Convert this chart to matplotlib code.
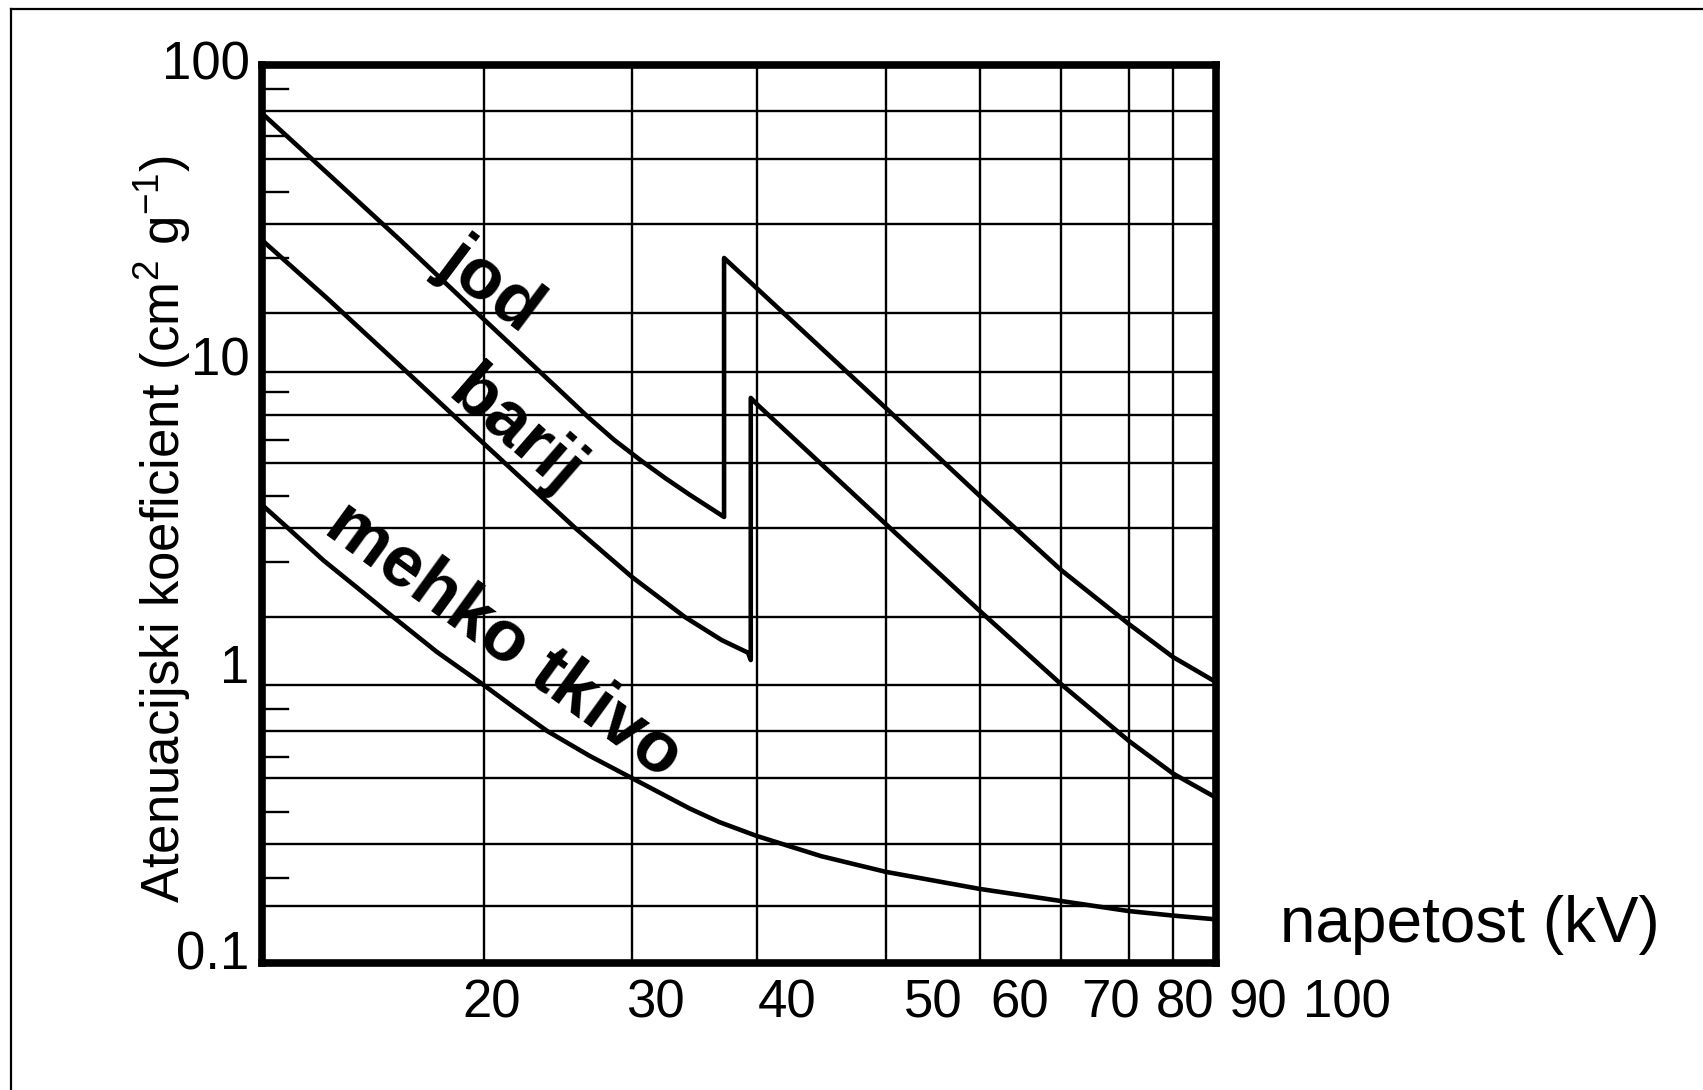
import numpy as np
import matplotlib
matplotlib.use("Agg")
from matplotlib import pyplot as plt
from matplotlib import transforms
from matplotlib.lines import Line2D

plt.rcParams['font.family'] = ['Liberation Sans', 'DejaVu Sans']
plt.rcParams['mathtext.fontset'] = 'custom'
plt.rcParams['mathtext.rm'] = 'Liberation Sans'
plt.rcParams['mathtext.it'] = 'Liberation Sans:italic'

# curves: voltage (kV) -> attenuation (cm2/g)
jodKV = [10.9, 13.1, 15.9, 20, 24.6, 26.7, 28.6, 30.6, 32.4, 34.3, 37.1, 37.1,
         40, 50, 60, 70, 80, 90, 100]
jodMu = [79, 55, 35, 18.6, 9.1, 7.87, 7.0, 6.12, 5.52, 5.03, 4.32, 30,
         24, 8.29, 5.0, 2.83, 1.86, 1.33, 1.03]

barijKV = [10.9, 13.1, 15.9, 20, 22.1, 25.7, 30, 33.9, 36.9, 39.2, 39.45, 39.45, 40,
           50, 60, 70, 80, 90, 100]
barijMu = [34.9, 22.0, 10.8, 6.84, 5.55, 4.0, 2.69, 2.0, 1.58, 1.39, 1.29, 8.73, 8.46,
           4.11, 2.09, 1.01, 0.76, 0.62, 0.54]

tkivoKV = [10.9, 11.7, 12.9, 14.1, 15.4, 17.6, 20, 21.8, 23.8, 26.7, 30, 34.3, 36.7,
           40, 44.7, 50, 60, 70, 80, 90, 100]
tkivoMu = [4.7, 4.0, 3.04, 2.5, 2.06, 1.40, 1.0, 0.903, 0.8, 0.705, 0.6, 0.509, 0.466,
           0.423, 0.361, 0.316, 0.256, 0.215, 0.188, 0.178, 0.17]

# paper grid
xGrid = [20, 30, 40, 50, 60, 70, 80, 90]
yGrid = [0.2, 0.4, 0.6, 0.8, 1, 2, 4, 6, 8, 10, 20, 40, 60, 80]
yShort = [0.3, 0.5, 0.7, 0.9, 3, 5, 7, 9, 30, 50, 70, 90]
yLabelValues = [0.1, 1, 10, 100]
yLabels = ["0.1", "1", "10", "100"]
xLabels = ["20", "30", "40", "50", "60", "70", "80", "90", "100"]

# the scanned paper is not a clean log grid, so the scales follow where
# the printed values really sit (pixels from the axes origin)
xScaleKV = [1, 10, 20, 30, 40, 50, 60, 70, 80, 90, 100, 1000]
xScalePx = [-871, -31, 222, 370, 495, 624, 718, 799, 867, 911, 954, 1954]
yScaleVal = [0.001, 0.1, 0.2, 0.3, 0.4, 0.5, 0.6, 0.7, 0.8, 0.9,
             1, 2, 3, 4, 5, 6, 7, 8, 9,
             10, 20, 30, 40, 50, 60, 70, 80, 90, 100, 10000]
yScalePx = [-560, 0, 57, 85, 119, 151, 185, 206, 232, 254,
            278, 346, 401, 435, 467, 500, 523, 548, 571,
            591, 650, 705, 739, 771, 804, 827, 852, 874, 898, 1500]


def makeScale(nodes, px):
    lg = np.log10(nodes)

    def fwd(v):
        with np.errstate(divide="ignore", invalid="ignore"):
            return np.interp(np.log10(v), lg, px)

    def inv(p):
        return 10 ** np.interp(p, px, lg)
    return fwd, inv


fig = plt.figure(figsize=(17.03, 10.9), dpi=100)
ax = fig.add_axes([262/1703, 127/1090, 954/1703, 898/1090])
ax.set_xscale('function', functions=makeScale(xScaleKV, xScalePx))
ax.set_yscale('function', functions=makeScale(yScaleVal, yScalePx))
ax.set_xlim(10.9, 100)
ax.set_ylim(0.1, 100)
ax.set_xticks([])
ax.set_yticks([])
ax.tick_params(which='both', length=0, labelbottom=False, labelleft=False)

for v in xGrid:
    ax.axvline(v, color='k', lw=1.7, zorder=1)
for v in yGrid:
    ax.axhline(v, color='k', lw=1.7, zorder=1)
for v in yShort:
    ax.axhline(v, xmin=0, xmax=0.027, color='k', lw=1.7, zorder=1)

for s in ax.spines.values():
    s.set_linewidth(5.5)
    s.set_zorder(3)

for kv, mu in [(jodKV, jodMu), (barijKV, barijMu), (tkivoKV, tkivoMu)]:
    ax.plot(kv, mu, color='k', lw=3.3, zorder=2, solid_joinstyle='round')

ax.text(0.239, 0.755, "jod", transform=ax.transAxes, rotation=-37, rotation_mode='anchor',
        ha='center', va='center', fontsize=52, fontweight='bold')
ax.text(0.265, 0.591, "barij", transform=ax.transAxes, rotation=-41, rotation_mode='anchor',
        ha='center', va='center', fontsize=52, fontweight='bold')
ax.text(0.254, 0.359, "mehko tkivo", transform=ax.transAxes, rotation=-36, rotation_mode='anchor',
        ha='center', va='center', fontsize=52, fontweight='bold')

# axis numbers (as printed on the sheet, not quite on the grid)
yLabelShift = [-7, 2, -3, -15]
for val, lab, dy in zip(yLabelValues, yLabels, yLabelShift):
    tr = transforms.offset_copy(ax.get_yaxis_transform(), fig=fig, y=dy, units='dots')
    ax.text(-0.013, val, lab, transform=tr, ha='right', va='baseline', fontsize=38)

xLabelPos = [0.241, 0.412, 0.550, 0.704, 0.794, 0.890, 0.968, 1.044, 1.137]
for p, lab in zip(xLabelPos, xLabels):
    ax.text(p, -0.0612, lab, transform=ax.transAxes, ha='center', va='baseline', fontsize=38)

fig.text(162/1703, 1 - 529/1090, r"Atenuacijski koeficient (cm$^2$ g$^{-1}$)",
         rotation=90, ha='center', va='center', fontsize=38)
fig.text(1470/1703, 1 - 925/1090, "napetost (kV)", ha='center', va='center', fontsize=46)

# frame of the original figure
fig.add_artist(Line2D([11/1703, 11/1703], [0, 1 - 9/1090], transform=fig.transFigure, color='k', lw=1.6))
fig.add_artist(Line2D([11/1703, 1], [1 - 9/1090, 1 - 9/1090], transform=fig.transFigure, color='k', lw=1.6))

fig.savefig("out.png", dpi=100)
